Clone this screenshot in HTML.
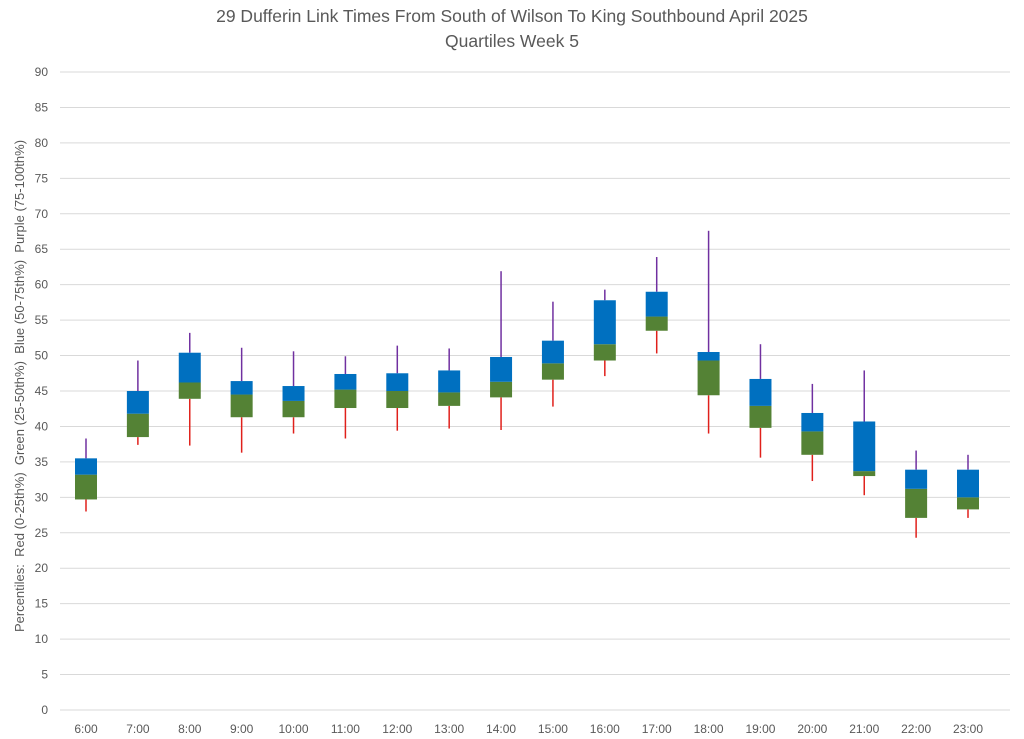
<!DOCTYPE html>
<html><head><meta charset="utf-8"><style>
body{margin:0;background:#fff;}
svg{display:block;font-family:"Liberation Sans",sans-serif;}
</style></head><body>
<svg id="chart" width="1024" height="739">
<text x="512" y="22" text-anchor="middle" font-size="17.5" fill="#595959">29 Dufferin Link Times From South of Wilson To King Southbound April 2025</text>
<text x="512" y="47" text-anchor="middle" font-size="17.5" fill="#595959">Quartiles Week 5</text>
<text transform="translate(24,386) rotate(-90)" text-anchor="middle" font-size="13" fill="#595959" style="white-space:pre">Percentiles:  Red (0-25th%)  Green (25-50th%)  Blue (50-75th%)  Purple (75-100th%)</text>
<g id="grid"></g><g id="marks"></g>
</svg>
<script>
const categories=["6:00","7:00","8:00","9:00","10:00","11:00","12:00","13:00","14:00","15:00","16:00","17:00","18:00","19:00","20:00","21:00","22:00","23:00"];
const minVals=[28,37.4,37.3,36.3,39,38.3,39.4,39.7,39.5,42.8,47.1,50.3,39,35.6,32.3,30.3,24.3,27.1];
const q1Vals=[29.7,38.5,43.9,41.3,41.3,42.6,42.6,42.9,44.1,46.6,49.3,53.5,44.4,39.8,36,33,27.1,28.3];
const medVals=[33.2,41.8,46.2,44.5,43.6,45.2,45,44.8,46.3,48.9,51.6,55.5,49.3,42.9,39.3,33.7,31.2,30];
const q3Vals=[35.5,45,50.4,46.4,45.7,47.4,47.5,47.9,49.8,52.1,57.8,59,50.5,46.7,41.9,40.7,33.9,33.9];
const maxVals=[38.3,49.3,53.2,51.1,50.6,49.9,51.4,51,61.9,57.6,59.3,63.9,67.6,51.6,46,47.9,36.6,36];
const yTicks=[0,5,10,15,20,25,30,35,40,45,50,55,60,65,70,75,80,85,90];
const NS="http://www.w3.org/2000/svg";
const y=v=>710-v*(638/90);
const x=i=>86+i*(882/17);
function mk(tag,attrs,parent){const e=document.createElementNS(NS,tag);for(const k in attrs)e.setAttribute(k,attrs[k]);parent.appendChild(e);return e;}
const grid=document.getElementById('grid'),marks=document.getElementById('marks');
yTicks.forEach(t=>{
 const l=mk('line',{x1:60,x2:1010,y1:y(t),y2:y(t),stroke:'#d9d9d9','stroke-width':1},grid);
 
 
 const tx=mk('text',{x:48,y:y(t)+4,'text-anchor':'end','font-size':12,fill:'#595959'},grid);
 tx.textContent=t;
 
 
});
categories.forEach((c,i)=>{
 const cx=x(i),w=22;
 const g=mk('g',{},marks);
 
 
 const lw=mk('line',{x1:cx,x2:cx,y1:y(minVals[i]),y2:y(q1Vals[i]),stroke:'#e0201b','stroke-width':1.5},g);
 
 
 const uw=mk('line',{x1:cx,x2:cx,y1:y(q3Vals[i]),y2:y(maxVals[i]),stroke:'#7030a0','stroke-width':1.5},g);
 
 
 const gb=mk('rect',{x:cx-w/2,y:y(medVals[i]),width:w,height:y(q1Vals[i])-y(medVals[i]),fill:'#548235'},g);
 
 
 const bb=mk('rect',{x:cx-w/2,y:y(q3Vals[i]),width:w,height:y(medVals[i])-y(q3Vals[i]),fill:'#0070c0'},g);
 
 
 const tx=mk('text',{x:cx,y:733,'text-anchor':'middle','font-size':12,fill:'#595959'},g);
 tx.textContent=c;
 
 
});
</script>
</body></html>
